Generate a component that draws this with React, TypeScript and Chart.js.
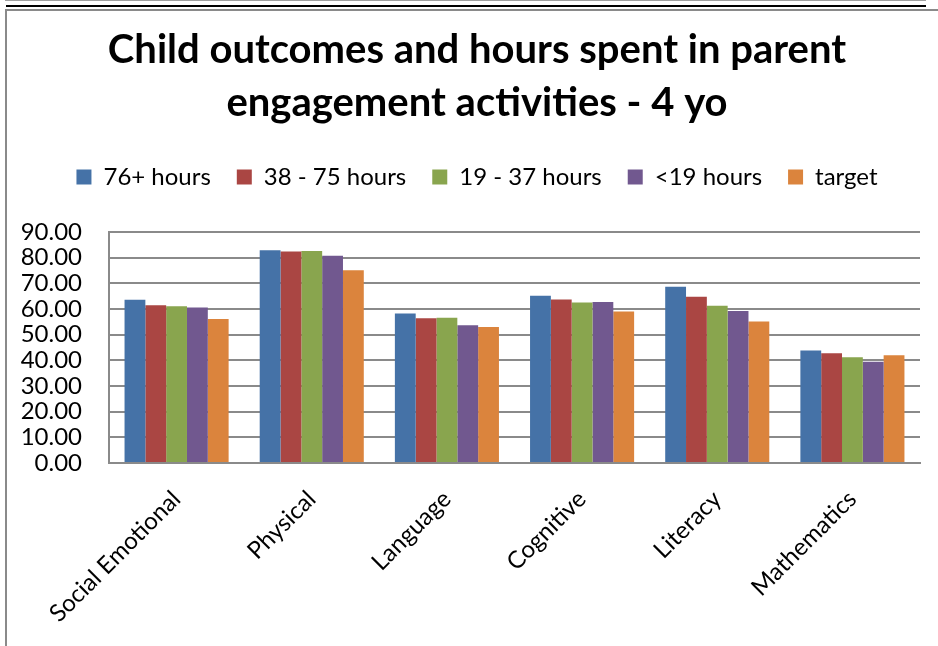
import React, { useEffect, useRef } from 'react';
import { Chart, registerables } from 'chart.js';

Chart.register(...registerables);

const categories = ['Social Emotional', 'Physical', 'Language', 'Cognitive', 'Literacy', 'Mathematics'];
const seriesNames = ['76+ hours', '38 - 75 hours', '19 - 37 hours', '<19 hours', 'target'];
const hours76plus = [63.6, 82.9, 58.2, 65.2, 68.7, 43.8];
const hours38to75 = [61.5, 82.4, 56.4, 63.7, 64.8, 42.8];
const hours19to37 = [61.1, 82.6, 56.6, 62.5, 61.3, 41.2];
const hoursUnder19 = [60.6, 80.7, 53.7, 62.7, 59.2, 39.4];
const targetValues = [56.1, 75.1, 53.0, 59.0, 55.1, 42.0];
const seriesColors = ['#4572A7', '#AA4643', '#89A54E', '#71588F', '#DB843D'];
const titleLines = ['Child outcomes and hours spent in parent', 'engagement activities - 4 yo'];
const yMin = 0;
const yMax = 90;
const yStep = 10;

const FONT = 'Lato, "Open Sans", sans-serif';
const LEGEND_EXTRA = 33;

const legendGapPlugin = {
  id: 'legendGap',
  beforeLayout(chart: any) {
    const lg = chart.legend;
    if (lg && !lg.__patched) {
      const orig = lg.fit;
      lg.fit = function () {
        orig.call(this);
        this.height += LEGEND_EXTRA;
      };
      lg.__patched = true;
    }
  },
};

export default function App() {
  const canvasRef = useRef<HTMLCanvasElement | null>(null);

  useEffect(() => {
    const canvas = canvasRef.current;
    if (!canvas) return;
    const seriesData = [hours76plus, hours38to75, hours19to37, hoursUnder19, targetValues];
    const chart = new Chart(canvas, {
      type: 'bar',
      data: {
        labels: categories,
        datasets: seriesNames.map((name, i) => ({
          label: name,
          data: seriesData[i],
          backgroundColor: seriesColors[i],
          borderWidth: 0,
          categoryPercentage: 0.77,
          barPercentage: 1.0,
        })),
      },
      plugins: [legendGapPlugin],
      options: {
        responsive: false,
        animation: false,
        layout: { padding: { left: 0, right: 0, top: 0, bottom: 0 } },
        plugins: {
          title: {
            display: true,
            text: titleLines,
            color: '#000',
            font: { family: FONT, size: 40, weight: 'bold', lineHeight: '53px' },
            padding: { top: 14, bottom: 9 },
          },
          legend: {
            display: true,
            position: 'top',
            labels: {
              color: '#000',
              font: { family: FONT, size: 24 },
              boxWidth: 15,
              boxHeight: 15,
              padding: 26,
            },
          },
          tooltip: { enabled: false },
        },
        scales: {
          x: {
            grid: { display: false, drawTicks: false },
            border: { display: true, color: '#8a8a8a', width: 2 },
            ticks: {
              color: '#000',
              font: { family: FONT, size: 24 },
              minRotation: 45,
              maxRotation: 45,
              autoSkip: false,
              padding: 22,
            },
            afterFit(scale: any) {
              scale.height = 183;
            },
          },
          y: {
            min: yMin,
            max: yMax,
            grid: { color: '#8a8a8a', lineWidth: 2, drawTicks: false },
            border: { display: true, color: '#8a8a8a', width: 2 },
            ticks: {
              stepSize: yStep,
              autoSkip: false,
              color: '#000',
              font: { family: FONT, size: 24 },
              padding: 27,
              callback: (v: any) => Number(v).toFixed(2),
            },
            afterFit(scale: any) {
              scale.width = 103;
            },
          },
          yRightSpacer: {
            type: 'linear',
            axis: 'y',
            position: 'right',
            display: true,
            min: yMin,
            max: yMax,
            grid: { display: false, drawTicks: false },
            border: { display: false },
            ticks: { display: false },
            afterFit(scale: any) {
              scale.width = 28;
            },
          },
        },
      },
    });
    return () => chart.destroy();
  }, []);

  return (
    <div style={{ position: 'absolute', left: 0, top: 0, width: 938, height: 646, overflow: 'hidden', background: '#fff' }}>
      <div style={{ position: 'absolute', left: 5, top: 0, width: 921, height: 1, background: '#a0a0a0' }} />
      <div style={{ position: 'absolute', left: 6, top: 5, width: 920, height: 2, background: '#000' }} />
      <div style={{ position: 'absolute', left: 5, top: 9, width: 933, height: 1.5, background: '#8a8a8a' }} />
      <div style={{ position: 'absolute', left: 5, top: 9, width: 1.5, height: 637, background: '#8a8a8a' }} />
      <canvas
        ref={canvasRef}
        width={942}
        height={636}
        style={{ position: 'absolute', left: 6, top: 10, width: 942, height: 636 }}
      />
    </div>
  );
}
